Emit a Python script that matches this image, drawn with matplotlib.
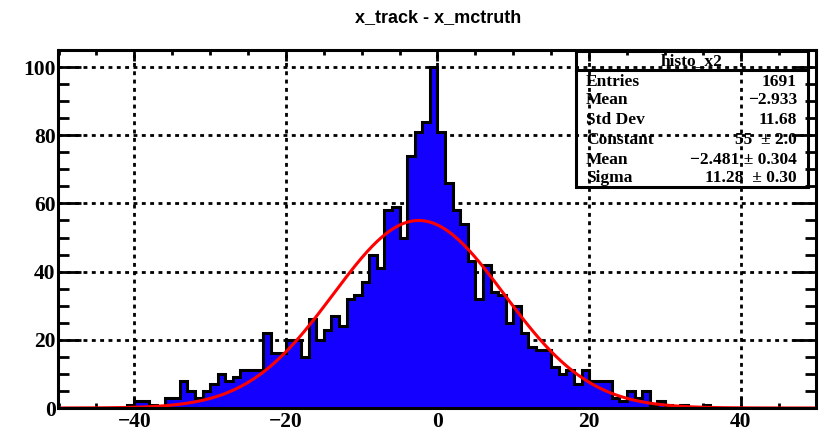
import numpy as np
import matplotlib
matplotlib.use("Agg")
from matplotlib import pyplot as plt
from matplotlib.ticker import MultipleLocator

# histogram: 100 bins from -50 to 50
x_min, x_max, n_bins = -50, 50, 100
first_bin = -41
counts_nonzero = [1, 2, 2, 1, 0, 3, 3, 8, 5, 3, 5, 7, 10, 8, 9, 11, 11, 11,
                  22, 16, 16, 20, 20, 15, 26, 20, 23, 27, 24, 32, 33, 37,
                  45, 41, 58, 59, 50, 74, 81, 84, 100,
                  81, 66, 58, 54, 43, 32, 42, 34, 33, 25,
                  30, 22, 18, 17, 17, 12, 10, 11, 7, 11, 8, 8, 8,
                  3, 2, 5, 3, 5, 1, 2, 1, 0, 1, 0, 0, 1]

# gaussian fit parameters (from the stats box)
fit_const, fit_mean, fit_sigma = 55.0, -2.481, 11.28

stats_name = "histo_x2"
stats_labels = ["Entries", "Mean", "Std Dev", "Constant", "Mean", "Sigma"]
stats_values = ["1691", "\u22122.933", "11.68", "55  \u00b1 2.0",
                "\u22122.481 \u00b1 0.304", "11.28  \u00b1 0.30"]

title = "x_track - x_mctruth"

edges = np.linspace(x_min, x_max, n_bins + 1)
counts = np.zeros(n_bins)
i0 = first_bin - x_min
counts[i0:i0 + len(counts_nonzero)] = counts_nonzero

W, H = 828, 433
fig = plt.figure(figsize=(W / 100, H / 100), dpi=100)
ax = fig.add_axes([58.5 / W, (H - 408) / H, 758 / W, 358 / H])

serif = "Liberation Serif"
blue = "#1400ff"

ax.stairs(counts, edges, fill=True, color=blue, zorder=2)
ax.stairs(counts, edges, color="black", lw=2.2, zorder=3)

xf = np.linspace(x_min, x_max, 600)
yf = fit_const * np.exp(-0.5 * ((xf - fit_mean) / fit_sigma) ** 2)
ax.plot(xf, yf, color="red", lw=2.2, zorder=4)

ax.set_xlim(x_min, x_max)
ax.set_ylim(0, 105)

ax.xaxis.set_major_locator(MultipleLocator(20))
ax.xaxis.set_minor_locator(MultipleLocator(5))
ax.yaxis.set_major_locator(MultipleLocator(20))
ax.yaxis.set_minor_locator(MultipleLocator(5))
ax.set_xticks([-40, -20, 0, 20, 40])

ax.grid(True, which="major", color="black", lw=2.0,
        linestyle=(0, (1.4, 1.6)), zorder=1)
ax.set_axisbelow(True)

ax.tick_params(axis="both", which="both", direction="in", width=2,
               top=True, right=True, colors="black")
ax.tick_params(axis="x", which="major", length=7.7, pad=3)
ax.tick_params(axis="x", which="minor", length=3.9)
ax.tick_params(axis="y", which="major", length=16.4, pad=2)
ax.tick_params(axis="y", which="minor", length=8.2)
for lab in ax.get_xticklabels() + ax.get_yticklabels():
    lab.set_fontfamily(serif)
    lab.set_fontweight("bold")
    lab.set_fontsize(15.5)
for sp in ax.spines.values():
    sp.set_linewidth(2.2)
    sp.set_zorder(5)

fig.text(438 / W, 1 - 18 / H, title, ha="center", va="center",
         fontsize=13, fontweight="bold", family="Liberation Sans")

# stats box (transparent, grid shows through)
bx0, bx1 = 576 / W, 808 / W
by0, by1 = 1 - 187 / H, 1 - 51 / H
box = plt.Rectangle((bx0, by0), bx1 - bx0, by1 - by0, transform=fig.transFigure,
                    fill=False, edgecolor="black", lw=2.2, zorder=10)
fig.add_artist(box)
fig.add_artist(plt.Line2D([bx0, bx1], [1 - 70 / H, 1 - 70 / H],
                          transform=fig.transFigure, color="black", lw=2.2))
fig.text((bx0 + bx1) / 2, 1 - 61 / H, stats_name, ha="center", va="center",
         fontsize=12.5, fontweight="bold", family=serif)
rows_y = [82, 100, 120, 140, 160, 178]
for lab, val, yy in zip(stats_labels, stats_values, rows_y):
    fig.text(586 / W, 1 - yy / H, lab, ha="left", va="center",
             fontsize=12.5, fontweight="bold", family=serif)
    fig.text(797 / W, 1 - yy / H, val, ha="right", va="center",
             fontsize=12.5, fontweight="bold", family=serif)

fig.savefig("out.png", dpi=100)
